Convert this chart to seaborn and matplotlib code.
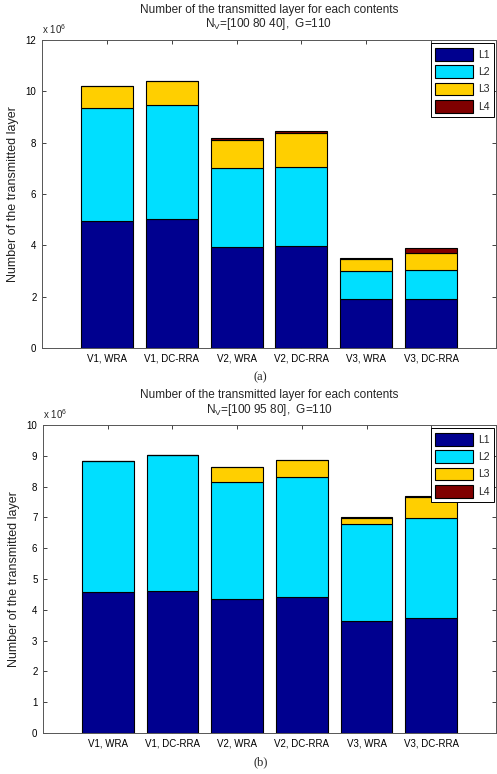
import numpy
import pandas
import seaborn
import matplotlib
matplotlib.use("Agg")
import matplotlib.pyplot as plt

# categories on the x axis
contents = ["V1, WRA", "V1, DC-RRA", "V2, WRA", "V2, DC-RRA", "V3, WRA", "V3, DC-RRA"]
layers = ["L1", "L2", "L3", "L4"]

# panel (a): N_V=[100 80 40], values in units of 1e6
a_L1 = [4.95, 5.02, 3.93, 3.97, 1.92, 1.92]
a_L2 = [4.40, 4.46, 3.09, 3.09, 1.08, 1.12]
a_L3 = [0.87, 0.94, 1.08, 1.32, 0.47, 0.68]
a_L4 = [0.00, 0.00, 0.08, 0.09, 0.05, 0.16]

# panel (b): N_V=[100 95 80], values in units of 1e6
b_L1 = [4.58, 4.61, 4.34, 4.42, 3.65, 3.73]
b_L2 = [4.26, 4.40, 3.80, 3.89, 3.12, 3.24]
b_L3 = [0.00, 0.00, 0.50, 0.56, 0.21, 0.68]
b_L4 = [0.00, 0.00, 0.00, 0.00, 0.04, 0.06]

layer_colors = ["#00008F", "#00DFFF", "#FFCF00", "#800000"]

seaborn.set_style("ticks")
plt.rcParams["font.family"] = ["Liberation Sans", "DejaVu Sans"]
plt.rcParams["font.size"] = 7
plt.rcParams["mathtext.fontset"] = "custom"
plt.rcParams["mathtext.rm"] = "Liberation Sans"
plt.rcParams["mathtext.it"] = "Liberation Sans"


def stacked_panel(ax, values, ymax, ystep, title2, tag):
    df = pandas.DataFrame({"content": contents})
    for name, vals in zip(layers, values):
        df[name] = vals

    # stack the layers from the bottom up
    bottom = numpy.zeros(len(contents))
    for name, color in zip(layers, layer_colors):
        seaborn.barplot(
            data=df,
            x="content",
            y=name,
            order=contents,
            bottom=bottom,
            color=color,
            saturation=1,
            width=0.8,
            edgecolor="black",
            linewidth=0.8,
            errorbar=None,
            ax=ax,
        )
        bottom = bottom + df[name].to_numpy()

    ax.set(xlim=(-1, len(contents)), ylim=(0, ymax), xlabel="", ylabel="")
    ax.set_yticks(numpy.arange(0, ymax + 0.01, ystep))
    ax.set_yticklabels([f"{v:g}" for v in numpy.arange(0, ymax + 0.01, ystep)])
    ax.set_ylabel("Number of the transmitted layer", labelpad=5, fontsize=9,
                  color="#222222")
    ax.tick_params(direction="in", length=3, width=0.6, top=True, right=True,
                   labelsize=7, pad=4, colors="#222222", labelcolor="black")
    for sp in ax.spines.values():
        sp.set_visible(True)
        sp.set_linewidth(0.7)
        sp.set_color("#555555")

    ax.set_title("Number of the transmitted layer for each contents\n" + title2,
                 fontsize=8.5, pad=9, linespacing=1.05)
    ax.text(0.0, 1.012, r"x 10$^{6}$", transform=ax.transAxes, fontsize=7,
            ha="left", va="bottom")
    ax.text(0.48, -0.075, tag, transform=ax.transAxes, fontsize=9,
            family="Liberation Serif", ha="center", va="top")

    handles = [plt.Rectangle((0, 0), 1, 1, facecolor=c, edgecolor="black", linewidth=0.8)
               for c in layer_colors]
    leg = ax.legend(handles, layers, loc="upper right", fancybox=False,
                    edgecolor="black", framealpha=1, handlelength=3.6,
                    handleheight=1.5, handletextpad=0.5, labelspacing=0.45,
                    borderpad=0.45, borderaxespad=0.3, fontsize=7.5,
                    bbox_to_anchor=(1.003, 1.0))
    leg.get_frame().set_linewidth(0.7)


fig = plt.figure(figsize=(4.97, 7.74), dpi=100)
ax_a = fig.add_axes([42 / 497, 1 - 348 / 774, (496 - 42) / 497, (348 - 40) / 774])
ax_b = fig.add_axes([43 / 497, 1 - 733 / 774, (496 - 43) / 497, (733 - 425) / 774])

stacked_panel(ax_a, [a_L1, a_L2, a_L3, a_L4], 12, 2, r"N$_\mathrm{V}$=[100 80 40],  G=110", "(a)")
stacked_panel(ax_b, [b_L1, b_L2, b_L3, b_L4], 10, 1, r"N$_\mathrm{V}$=[100 95 80],  G=110", "(b)")

fig.savefig("out.png", dpi=100)
